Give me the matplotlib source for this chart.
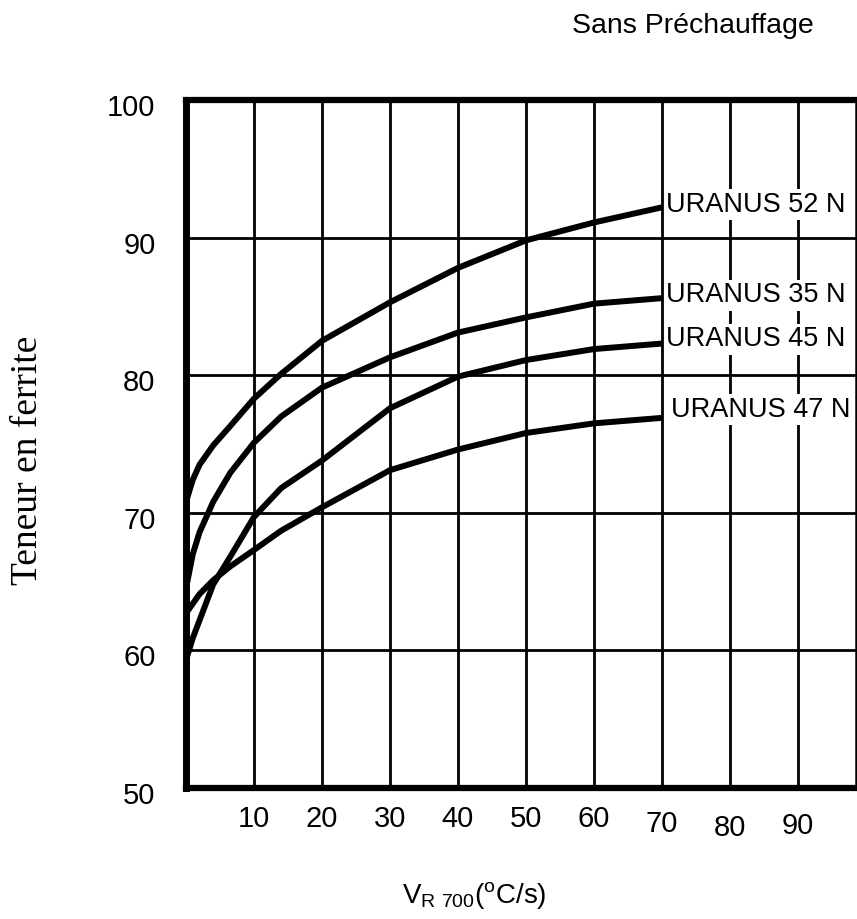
import matplotlib
matplotlib.use('Agg')
import matplotlib.pyplot as plt
from matplotlib.transforms import ScaledTranslation

# vitesse de refroidissement V_R700 (°C/s)
vitesse = [0, 1, 2, 4, 6.5, 10, 14, 20, 30, 40, 50, 60, 70]

# teneur en ferrite (%)
uranus_52n = [70.8, 72.4, 73.5, 74.9, 76.3, 78.3, 80.1, 82.5, 85.3, 87.8, 89.8, 91.1, 92.2]
uranus_35n = [64.5, 67.0, 68.6, 70.8, 72.9, 75.1, 77.0, 79.1, 81.3, 83.1, 84.2, 85.2, 85.6]
uranus_45n = [59.3, 60.9, 62.2, 64.8, 66.8, 69.7, 71.8, 73.8, 77.6, 79.9, 81.1, 81.9, 82.3]
uranus_47n = [62.7, 63.4, 64.1, 65.1, 66.1, 67.3, 68.7, 70.4, 73.1, 74.6, 75.8, 76.5, 76.9]

nuances = ['URANUS 52 N', 'URANUS 35 N', 'URANUS 45 N', 'URANUS 47 N']
courbes = [uranus_52n, uranus_35n, uranus_45n, uranus_47n]
pos_etiquettes = [92.4, 85.8, 82.6, 77.5]

xticks = [10, 20, 30, 40, 50, 60, 70, 80, 90]
yticks = [50, 60, 70, 80, 90, 100]

plt.rcParams['font.family'] = ['Liberation Sans', 'DejaVu Sans']
plt.rcParams['mathtext.fontset'] = 'custom'
plt.rcParams['mathtext.rm'] = 'Liberation Sans'

fig = plt.figure(figsize=(8.57, 9.19), dpi=100)
ax = fig.add_axes([186 / 857, 1 - 788 / 919, (856 - 186) / 857, (788 - 100) / 919])

for y in courbes:
    ax.plot(vitesse, y, color='black', linewidth=4.3, solid_capstyle='butt', zorder=2)

for nom, yl in zip(nuances, pos_etiquettes):
    dx = 71.3 if nom.endswith('47 N') else 70.6
    ax.text(dx, yl, nom, ha='left', va='center', fontsize=19.5,
            zorder=4, bbox=dict(boxstyle='square,pad=0.08', fc='white', ec='none'))

ax.set_xlim(0, (856 - 186) / 6.8)
ax.set_ylim(50, 100)
ax.set_xticks(xticks)
ax.set_yticks(yticks)
ax.set_axisbelow(True)
ax.grid(True, color='black', linewidth=2.0)
ax.tick_params(length=0, labelsize=21, pad=12)
ax.tick_params(axis='y', pad=22)

for lbl in ax.get_yticklabels():
    lbl.set_transform(lbl.get_transform() + ScaledTranslation(0, -0.05, fig.dpi_scale_trans))
decal_x = [0, 0, 0, 0, 0, 0, -5, -9, -7]
for lbl, d in zip(ax.get_xticklabels(), decal_x):
    lbl.set_transform(lbl.get_transform() + ScaledTranslation(0, d / 100, fig.dpi_scale_trans))

ax.spines['left'].set_linewidth(5)
ax.spines['bottom'].set_linewidth(4.5)
ax.spines['top'].set_linewidth(4.5)
ax.spines['right'].set_linewidth(1.8)

fig.text(693 / 857, 1 - 33 / 919, 'Sans Préchauffage', ha='center', va='baseline',
         fontsize=20.5)
fig.text(474 / 857, 1 - 903 / 919, r'$\mathrm{V_{R\ 700}(^{o}C/s)}$', ha='center',
         va='baseline', fontsize=20)
fig.text(28 / 857, 1 - 460 / 919, 'Teneur en ferrite', rotation=90, ha='center', va='center',
         fontsize=27, family='Liberation Serif')

fig.savefig('out.png', dpi=100)
